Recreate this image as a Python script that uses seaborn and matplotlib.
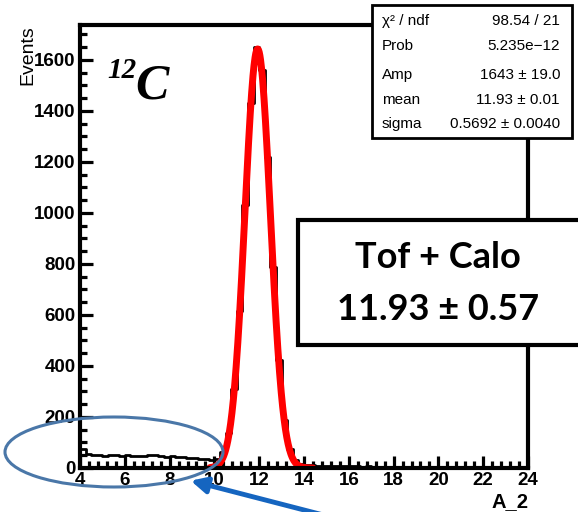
import numpy as np
import pandas as pd
import matplotlib
matplotlib.use('Agg')
import matplotlib.pyplot as plt
import seaborn as sns
from matplotlib.ticker import MultipleLocator
from matplotlib.patches import Rectangle, Ellipse, FancyArrowPatch

# bin edges of the A_2 histogram (0.25 wide, 4 -> 24)
bin_lo = 4.0
bin_hi = 24.0
bin_w = 0.25

# counts, bin by bin
counts_low = [75, 55, 52, 50, 49, 52, 50, 47, 50, 48, 49, 46,
              52, 50, 47, 45, 46, 44, 42, 41, 40, 37, 34, 30]          # 4.0 - 10.0
counts_peak = [36, 61, 138, 310, 615, 1030, 1430, 1650, 1560, 1220,
               790, 425, 190, 75, 30, 15, 12, 10]                      # 10.0 - 14.5
counts_tail = [9, 8, 8, 7, 8, 6, 7, 6, 5, 6, 5, 5, 4, 5, 4, 4, 3, 4, 3, 3,
               3, 2, 3, 2, 2, 3, 2, 2, 2, 1, 2, 1, 1, 2, 1, 1, 1, 1]    # 14.5 - 24.0

# fit results shown in the stats box
fit_amp = 1643
fit_mean = 11.93
fit_sigma = 0.5692
fit_range = (9.8, 14.4)

stats_labels = ['\u03c7\u00b2 / ndf', 'Prob', 'Amp', 'mean', 'sigma']
stats_values = ['98.54 / 21', '5.235e\u221212', '1643 \u00b1 19.0',
                '11.93 \u00b1 0.01', '0.5692 \u00b1 0.0040']

counts = counts_low + counts_peak + counts_tail
edges = list(np.arange(bin_lo, bin_hi + bin_w / 2, bin_w))
df = pd.DataFrame({'A_2': [e + bin_w / 2 for e in edges[:-1]], 'n': counts})

sns.set_style('ticks')
plt.rcParams['font.family'] = ['Liberation Sans', 'DejaVu Sans']
plt.rcParams['text.color'] = 'black'
plt.rcParams['axes.labelcolor'] = 'black'
plt.rcParams['xtick.color'] = 'black'
plt.rcParams['ytick.color'] = 'black'
plt.rcParams['axes.edgecolor'] = 'black'

W, H = 578, 512
fig = plt.figure(figsize=(W / 100, H / 100), dpi=100)
ax = fig.add_axes([80 / W, 1 - 468 / H, 448 / W, 443 / H])

sns.histplot(data=df, x='A_2', weights='n', bins=edges, element='step', fill=False,
             color='black', linewidth=2, ax=ax)

# gaussian fit curve
xf = np.linspace(fit_range[0], fit_range[1], 300)
yf = fit_amp * np.exp(-0.5 * ((xf - fit_mean) / fit_sigma) ** 2)
sns.lineplot(x=xf, y=yf, color='red', linewidth=5, ax=ax)

ax.set_xlim(4, 24)
ax.set_ylim(0, 1737)
ax.xaxis.set_major_locator(MultipleLocator(2))
ax.xaxis.set_minor_locator(MultipleLocator(0.4))
ax.yaxis.set_major_locator(MultipleLocator(200))
ax.yaxis.set_minor_locator(MultipleLocator(50))
ax.tick_params(which='major', direction='in', length=9, width=2.3,
               labelsize=13.5, pad=3, top=False, right=False)
ax.tick_params(which='minor', direction='in', length=5, width=2.3,
               top=False, right=False)
for lbl in ax.get_xticklabels() + ax.get_yticklabels():
    lbl.set_fontweight('bold')
for s in ax.spines.values():
    s.set_visible(True)
    s.set_linewidth(3)
    s.set_color('black')

ax.set_xlabel('A_2', fontsize=14.5, loc='right', labelpad=2, fontweight='bold')
ax.set_ylabel('Events', fontsize=14, loc='top', labelpad=0)
ax.yaxis.set_label_coords(-0.098, 1.0)

# 12C label
ax.text(0.060, 0.928, '12', transform=ax.transAxes, fontsize=21, weight='bold',
        family='Liberation Serif', style='italic', va='top', ha='left')
ax.text(0.123, 0.835, 'C', transform=ax.transAxes, fontsize=36, weight='bold',
        family='Liberation Serif', style='italic', va='baseline', ha='left')

# stats box
fig.add_artist(Rectangle((372 / W, 1 - 138 / H), 200 / W, 133 / H,
                         transform=fig.transFigure, facecolor='white',
                         edgecolor='black', linewidth=2, zorder=5))
rows_y = [21, 46, 75, 100, 124]
for lab, val, yy in zip(stats_labels, stats_values, rows_y):
    fig.text(382 / W, 1 - yy / H, lab, fontsize=11, ha='left', va='center', zorder=6)
    fig.text(560 / W, 1 - yy / H, val, fontsize=11, ha='right', va='center', zorder=6)

# Tof + Calo box
fig.add_artist(Rectangle((298 / W, 1 - 345 / H), 320 / W, 125 / H,
                         transform=fig.transFigure, facecolor='white',
                         edgecolor='black', linewidth=3, zorder=5))
fig.text(438 / W, 1 - 258 / H, 'Tof + Calo', fontsize=26, family=['Lato', 'DejaVu Sans'],
         weight='bold', ha='center', va='center', zorder=6)
fig.text(438 / W, 1 - 310 / H, '11.93 \u00b1 0.57', fontsize=26, family=['Lato', 'DejaVu Sans'],
         weight='bold', ha='center', va='center', zorder=6)

# ellipse and arrow marking the low-A tail
fig.add_artist(Ellipse((114 / W, 1 - 452 / H), 218 / W, 70 / H, transform=fig.transFigure,
                       fill=False, edgecolor='#4a77a8', linewidth=2.2, zorder=7))
fig.add_artist(FancyArrowPatch((335 / W, 1 - 518 / H), (188 / W, 1 - 480 / H),
                               transform=fig.transFigure, arrowstyle='-|>',
                               mutation_scale=24, color='#1565c0', linewidth=3.5, zorder=7))

fig.savefig('out.png', dpi=100)
